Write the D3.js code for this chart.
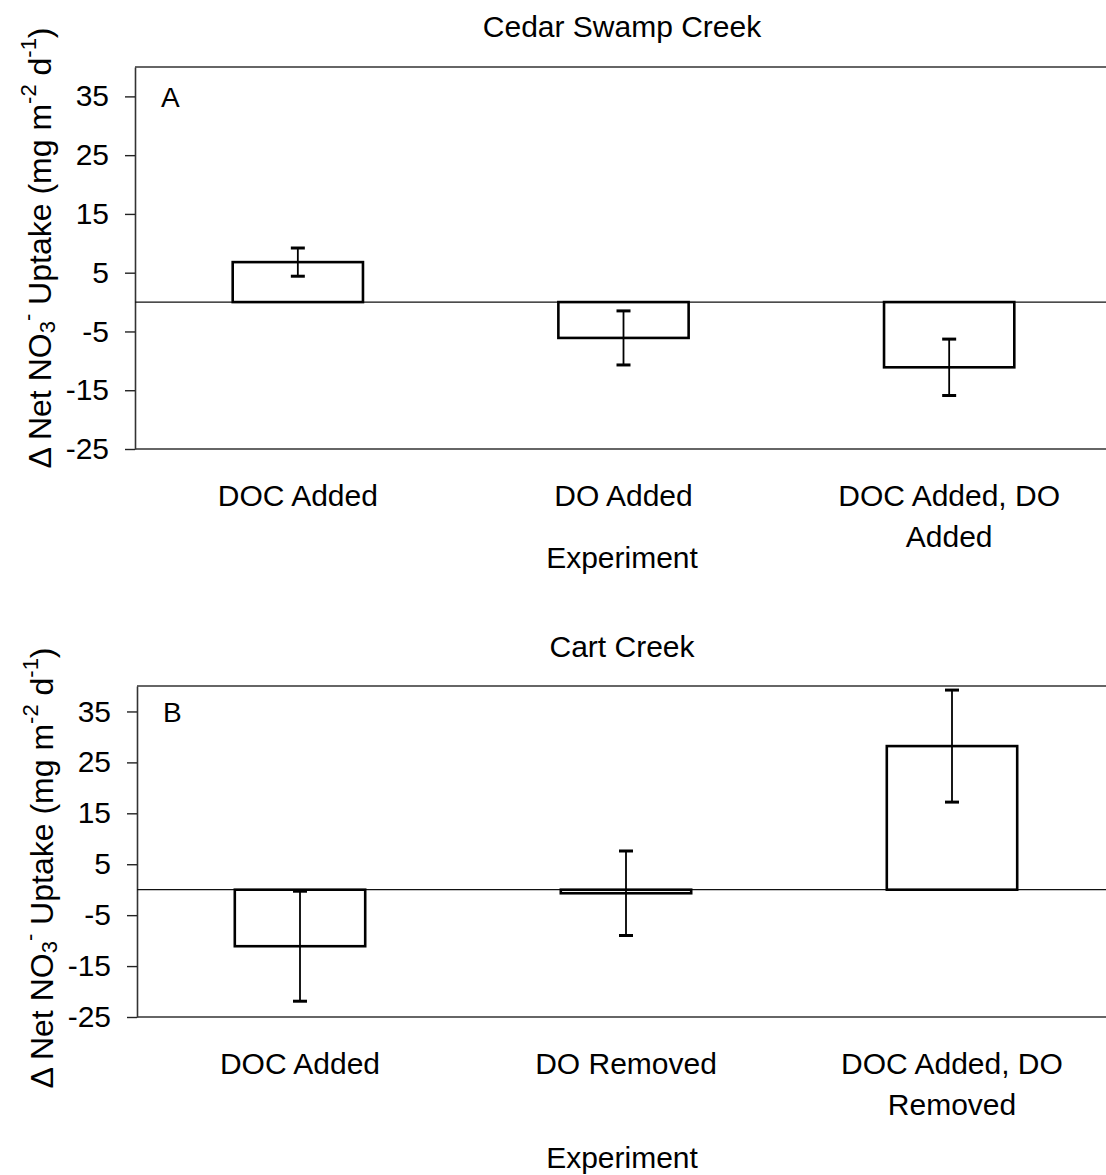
<!DOCTYPE html>
<html>
<head>
<meta charset="utf-8">
<script src="https://cdn.jsdelivr.net/npm/d3@7"></script>
<style>
  body { margin: 0; background: #fff; }
  svg { display: block; font-family: "Liberation Sans", Arial, sans-serif; }
</style>
</head>
<body>
<svg id="chart" width="1106" height="1175"></svg>
<script>
// data
const yTicks = [-25, -15, -5, 5, 15, 25, 35];

const titleA = "Cedar Swamp Creek";
const catsA = ["DOC Added", "DO Added", "DOC Added, DO Added"];
const meanA = [6.8, -6.1, -11.1];
const seA = [2.4, 4.6, 4.8];

const titleB = "Cart Creek";
const catsB = ["DOC Added", "DO Removed", "DOC Added, DO Removed"];
const meanB = [-11.1, -0.7, 28.2];
const seB = [10.8, 8.3, 11.0];

const svg = d3.select("#chart");

function wrap(text, maxW) {
    text.each(function() {
        let t = d3.select(this);
        let words = t.text().split(" ");
        let x = t.attr("x"), y = t.attr("y");
        t.text(null);
        let line = [];
        let tspan = t.append("tspan").attr("x", x).attr("y", y);
        words.forEach(w => {
            line.push(w);
            tspan.text(line.join(" "));
            if (tspan.node().getComputedTextLength() > maxW && line.length > 1) {
                line.pop();
                tspan.text(line.join(" "));
                line = [w];
                tspan = t.append("tspan").attr("x", x).attr("dy", 41).text(w);
            }
        });
    });
}

function drawPanel(p) {
    const g = svg.append("g");

    let y = d3.scaleLinear().domain([-25, 40]).range([p.bottom, p.top]);
    let x = d3.scaleBand().domain(p.cats).range([p.left, p.right])
        .paddingInner(0.6).paddingOuter(0.3);

    // title
    g.append("text")
        .attr("x", 622).attr("y", p.titleY)
        .attr("text-anchor", "middle")
        .style("font-size", "30px")
        .text(p.title);

    // frame top + bottom
    [p.top, p.bottom].forEach(yy => {
        g.append("line")
            .attr("x1", p.left).attr("x2", 1106)
            .attr("y1", yy).attr("y2", yy)
            .attr("stroke", "#333").attr("stroke-width", 1.6);
    });

    // y axis
    const ax = g.append("g")
        .attr("transform", `translate(${p.left},0)`)
        .call(d3.axisLeft(y).tickValues(yTicks).tickFormat(d => String(d))
            .tickSize(10).tickSizeOuter(0).tickPadding(16));
    ax.select(".domain").attr("stroke", "#333").attr("stroke-width", 1.6);
    ax.selectAll(".tick line").attr("stroke", "#222").attr("stroke-width", 1.4);
    ax.selectAll(".tick text")
        .attr("fill", "#000")
        .style("font-size", "30px")
        .style("font-family", "'Liberation Sans', Arial, sans-serif");

    // zero line
    g.append("line")
        .attr("x1", p.left).attr("x2", 1106)
        .attr("y1", y(0)).attr("y2", y(0))
        .attr("stroke", "#111").attr("stroke-width", 1.3);

    // bars
    g.append("g")
        .selectAll("rect")
        .data(p.means)
        .join("rect")
        .attr("x", (d, i) => x(p.cats[i]))
        .attr("width", x.bandwidth())
        .attr("y", d => y(Math.max(0, d)))
        .attr("height", d => Math.abs(y(d) - y(0)))
        .attr("fill", "none")
        .attr("stroke", "#000")
        .attr("stroke-width", 2.6);

    // error bars
    const eb = g.append("g")
        .selectAll("g")
        .data(p.means)
        .join("g")
        .attr("transform", (d, i) => `translate(${x(p.cats[i]) + x.bandwidth() / 2},0)`);
    eb.append("line")
        .attr("y1", (d, i) => y(d + p.se[i]))
        .attr("y2", (d, i) => y(d - p.se[i]))
        .attr("stroke", "#000").attr("stroke-width", 1.8);
    [1, -1].forEach(s => {
        eb.append("line")
            .attr("x1", -7).attr("x2", 7)
            .attr("y1", (d, i) => y(d + s * p.se[i]))
            .attr("y2", (d, i) => y(d + s * p.se[i]))
            .attr("stroke", "#000").attr("stroke-width", 3);
    });

    // panel letter
    g.append("text")
        .attr("x", p.left + 26).attr("y", y(35) + 11)
        .style("font-size", "28px")
        .text(p.letter);

    // category labels
    g.append("g")
        .selectAll("text")
        .data(p.cats)
        .join("text")
        .attr("x", d => x(d) + x.bandwidth() / 2)
        .attr("y", p.catY)
        .attr("text-anchor", "middle")
        .style("font-size", "30px")
        .text(d => d)
        .call(wrap, 250);

    // x title
    g.append("text")
        .attr("x", 622).attr("y", p.xTitleY)
        .attr("text-anchor", "middle")
        .style("font-size", "30px")
        .text("Experiment");

    // y title
    const yl = g.append("text")
        .attr("transform", `translate(${p.yLabX},${p.yLabY}) rotate(-90)`)
        .attr("text-anchor", "middle")
        .style("font-size", "32px");
    yl.append("tspan").text("\u0394 Net NO");
    yl.append("tspan").attr("dy", 4).style("font-size", "22px").text("3");
    yl.append("tspan").attr("dy", -20).style("font-size", "22px").text("-");
    yl.append("tspan").attr("dy", 16).text(" Uptake (mg m");
    yl.append("tspan").attr("dy", -15).style("font-size", "22px").text("-2");
    yl.append("tspan").attr("dy", 15).text(" d");
    yl.append("tspan").attr("dy", -15).style("font-size", "22px").text("-1");
    yl.append("tspan").attr("dy", 15).text(")");
}

drawPanel({
    title: titleA, letter: "A", cats: catsA, means: meanA, se: seA,
    top: 67, bottom: 449, left: 135, right: 1112,
    titleY: 37, catY: 506, xTitleY: 568, yLabX: 51, yLabY: 248
});

drawPanel({
    title: titleB, letter: "B", cats: catsB, means: meanB, se: seB,
    top: 686, bottom: 1017, left: 137, right: 1115,
    titleY: 657, catY: 1074, xTitleY: 1168, yLabX: 53, yLabY: 868
});
</script>
</body>
</html>
